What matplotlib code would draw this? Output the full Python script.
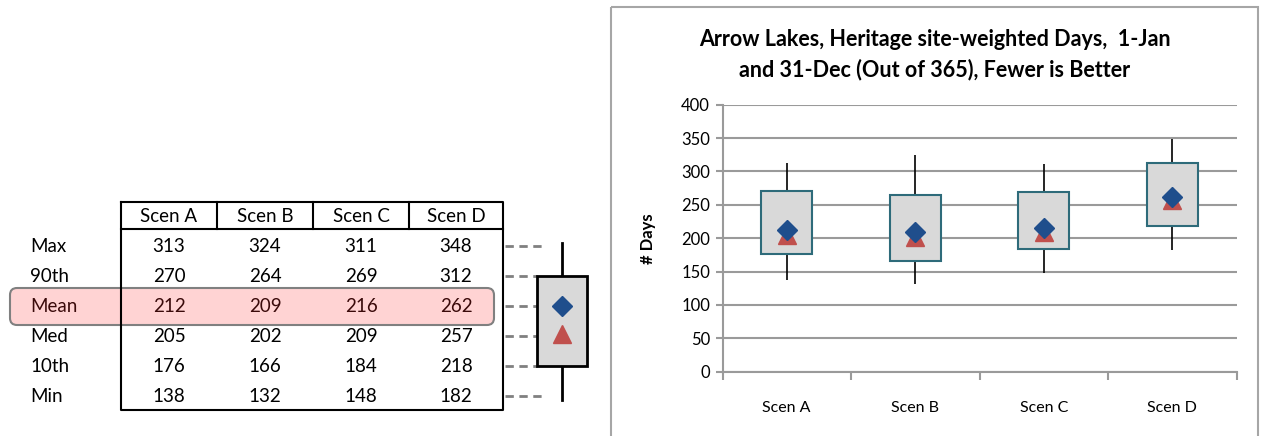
import matplotlib
matplotlib.use("Agg")
import matplotlib.pyplot as plt
from matplotlib.patches import Rectangle, FancyBboxPatch

plt.rcParams['font.family'] = ['Lato', 'DejaVu Sans']

scenarios = ["Scen A", "Scen B", "Scen C", "Scen D"]
row_labels = ["Max", "90th", "Mean", "Med", "10th", "Min"]
v_max = [313, 324, 311, 348]
v_p90 = [270, 264, 269, 312]
v_mean = [212, 209, 216, 262]
v_med = [205, 202, 209, 257]
v_p10 = [176, 166, 184, 218]
v_min = [138, 132, 148, 182]
rows = [v_max, v_p90, v_mean, v_med, v_p10, v_min]

title_lines = ["Arrow Lakes, Heritage site-weighted Days,  1-Jan",
               "and 31-Dec (Out of 365), Fewer is Better"]

W, H = 1261, 436
fig = plt.figure(figsize=(W / 100, H / 100), dpi=100)

# ---------- overlay axes in pixel coordinates (table + legend sketch + frame) ----------
ov = fig.add_axes([0, 0, 1, 1])
ov.set_xlim(0, W)
ov.set_ylim(H, 0)
ov.axis("off")

# mean row highlight
ov.add_patch(FancyBboxPatch((10, 288), 484, 37, boxstyle="round,pad=0,rounding_size=7",
                            facecolor="#FFD3D3", edgecolor="#808080", linewidth=1.5, zorder=1))

col_x = [121, 217, 313, 409, 503]
head_top, head_bot, tab_bot = 202, 229, 410
row_y0, row_dy = 246, 30
tk = dict(color="black", linewidth=1.5, zorder=3)
ov.plot([col_x[0], col_x[-1], col_x[-1], col_x[0], col_x[0]],
        [head_top, head_top, tab_bot, tab_bot, head_top], **tk)
ov.plot([col_x[0], col_x[-1]], [head_bot, head_bot], **tk)
for x in col_x[1:-1]:
    ov.plot([x, x], [head_top, head_bot], **tk)

fs = 13.5
for i, s in enumerate(scenarios):
    cx = (col_x[i] + col_x[i + 1]) / 2
    ov.text(cx, (head_top + head_bot) / 2 + 1, s, ha="center", va="center", fontsize=fs, zorder=4)
for r, (lab, vals) in enumerate(zip(row_labels, rows)):
    y = row_y0 + r * row_dy
    col = "#3A0A0A" if lab == "Mean" else "black"
    ov.text(30, y, lab, ha="left", va="center", fontsize=fs, color=col, zorder=4)
    for i, v in enumerate(vals):
        cx = (col_x[i] + col_x[i + 1]) / 2
        ov.text(cx, y, str(v), ha="center", va="center", fontsize=fs, color=col, zorder=4)

# legend sketch box
bx0, bx1, bcx = 537, 587, 562
ys = [row_y0 + r * row_dy for r in range(6)]
ov.plot([bcx, bcx], [243, ys[1]], color="black", linewidth=2, zorder=3)
ov.plot([bcx, bcx], [ys[4], 400], color="black", linewidth=2, zorder=3)
ov.add_patch(Rectangle((bx0, ys[1]), bx1 - bx0, ys[4] - ys[1], facecolor="#D9D9D9",
                       edgecolor="black", linewidth=2, zorder=3))
ov.plot([bcx], [ys[2]], marker="D", markersize=10, color="#1F4E8C", zorder=4)
ov.plot([bcx], [ys[3] - 2], marker="^", markersize=13, color="#C0504D", zorder=4)
dash_end = [545, 537, 548, 548, 537, 545]
for y, xe in zip(ys, dash_end):
    ov.plot([505, xe], [y, y], color="#808080", linewidth=2, linestyle=(0, (3, 2)), zorder=2)

# chart frame
ov.add_patch(Rectangle((611, 7), 647, 440, facecolor="none", edgecolor="#A6A6A6",
                       linewidth=1.5, zorder=1))

ov.text(934.5, 40, title_lines[0], ha="center", va="center", fontsize=15.5,
        fontweight="bold")
ov.text(934.5, 70, title_lines[1], ha="center", va="center", fontsize=15.5,
        fontweight="bold")

# ---------- chart axes ----------
left, right, top, bottom = 722.5, 1236.5, 104.7, 371.7
ax = fig.add_axes([left / W, (H - bottom) / H, (right - left) / W, (bottom - top) / H])
ax.patch.set_alpha(0)
pos = list(range(len(scenarios)))
ax.set_xlim(-0.5, len(scenarios) - 0.5)
ax.set_ylim(0, 400)
ax.set_yticks(range(0, 401, 50))
ax.yaxis.grid(True, color="#9A9A9A", linewidth=1.5)
ax.set_axisbelow(True)
for s in ["top", "right"]:
    ax.spines[s].set_visible(False)
for s in ["left", "bottom"]:
    ax.spines[s].set_color("#9A9A9A")
    ax.spines[s].set_linewidth(1.5)

ax.set_xticks([p - 0.5 for p in pos] + [len(pos) - 0.5])
ax.set_xticklabels([])
ax.set_xticks(pos, minor=True)
ax.set_xticklabels(scenarios, minor=True, fontsize=11.5)
ax.tick_params(axis="x", which="major", length=6, color="#9A9A9A", width=1.5)
ax.tick_params(axis="x", which="minor", length=0, pad=21)
ax.tick_params(axis="y", length=5, color="#9A9A9A", width=1.5, labelsize=12, pad=4)

ax.vlines(pos, v_min, v_max, color="black", linewidth=1.2, zorder=2)
ax.bar(pos, [a - b for a, b in zip(v_p90, v_p10)], bottom=v_p10, width=0.4,
       color="#D9D9D9", edgecolor="#2E6B7A", linewidth=1.5, zorder=3)
ax.plot(pos, v_med, linestyle="none", marker="^", markersize=13, color="#C0504D", zorder=4)
ax.plot(pos, v_mean, linestyle="none", marker="D", markersize=10, color="#1F4E8C", zorder=5)
ax.set_ylabel("# Days", fontsize=12, fontweight="bold", labelpad=18)

fig.savefig("out.png", dpi=100)
